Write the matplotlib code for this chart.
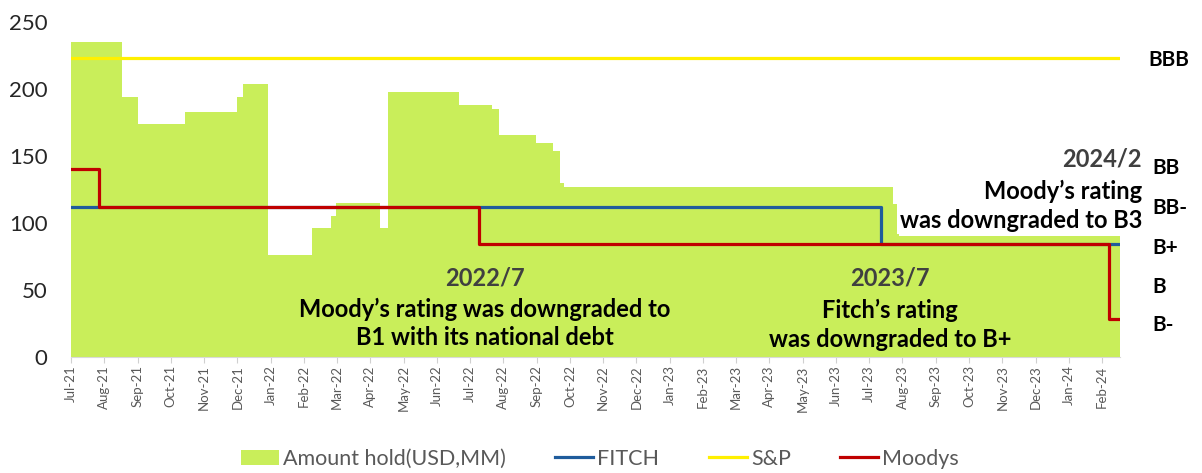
import numpy as np
import matplotlib.pyplot as plt
from matplotlib.patches import Patch
from matplotlib.lines import Line2D
import matplotlib.transforms as mtransforms

plt.rcParams['font.family'] = ['Lato', 'DejaVu Sans']

# month labels, Jul-21 .. Feb-24 (x positions are months since Jul-21)
months = ['Jul-21', 'Aug-21', 'Sep-21', 'Oct-21', 'Nov-21', 'Dec-21',
          'Jan-22', 'Feb-22', 'Mar-22', 'Apr-22', 'May-22', 'Jun-22',
          'Jul-22', 'Aug-22', 'Sep-22', 'Oct-22', 'Nov-22', 'Dec-22',
          'Jan-23', 'Feb-23', 'Mar-23', 'Apr-23', 'May-23', 'Jun-23',
          'Jul-23', 'Aug-23', 'Sep-23', 'Oct-23', 'Nov-23', 'Dec-23',
          'Jan-24', 'Feb-24']
x_end = 31.54

# amount held (USD MM), step changes
amt_x = [0, 1.54, 2.0, 3.43, 5.0, 5.16, 5.92, 7.26, 7.82, 7.96, 9.29, 9.54,
         11.67, 12.65, 12.87, 13.97, 14.5, 14.7, 14.83, 24.7, 24.9, x_end]
amt_y = [235, 194, 174, 183, 194, 204, 76, 96, 105, 115, 96, 198,
         188, 185, 166, 160, 154, 130, 127, 114, 90, 90]

# ratings mapped to the chart scale
fitch_x = [0, 24.35, x_end]
fitch_y = [112, 84, 84]
sp_x = [0, x_end]
sp_y = [223, 223]
moodys_x = [0, 0.84, 12.27, 31.2, x_end]
moodys_y = [140, 112, 84, 28, 28]

rating_names = ['BBB', 'BB', 'BB-', 'B+', 'B', 'B-']
rating_pos = [222, 141, 111, 81, 52, 24]

green = '#C9EE5A'
blue = '#1F5C9C'
yellow = '#FFF000'
red = '#C00000'

fig = plt.figure(figsize=(12.02, 4.73), dpi=100)
ax = fig.add_axes([71 / 1202, 1 - 357 / 473, (1120 - 71) / 1202, (357 - 22) / 473])

ax.fill_between(amt_x, amt_y, step='post', color=green, lw=0)
ax.step(fitch_x, fitch_y, where='post', color=blue, lw=2.3)
ax.plot(sp_x, sp_y, color=yellow, lw=2.3)
ax.step(moodys_x, moodys_y, where='post', color=red, lw=2.3)

ax.set_xlim(0, x_end)
ax.set_ylim(0, 250)
ax.set_xticks(range(len(months)))
ax.set_xticklabels(months, rotation=90, fontsize=9.5, color='#595959')
ax.set_yticks(range(0, 251, 50))
ax.tick_params(axis='y', length=0, labelsize=16, labelcolor='#262626', pad=17)
ax.tick_params(axis='x', length=4, color='#D0D0D0', pad=2)
for s in ['top', 'right', 'left']:
    ax.spines[s].set_visible(False)
ax.spines['bottom'].set_color('#D9D9D9')

trans = mtransforms.blended_transform_factory(ax.transAxes, ax.transData)
for name, pos in zip(rating_names, rating_pos):
    ax.text(1.0267 if name == 'BBB' else 1.0305, pos, name, transform=trans,
            fontsize=15, fontweight='bold', va='center', ha='left')

# annotations
fs = 17
ls = 1.3
ax.text(12.45, 59, '2022/7', fontsize=fs, fontweight='bold', color='#404040',
        ha='center', va='center')
ax.text(12.45, 25, "Moody’s rating was downgraded to\nB1 with its national debt",
        fontsize=fs, fontweight='bold', color='black', ha='center', va='center',
        linespacing=ls)
ax.text(24.62, 59, '2023/7', fontsize=fs, fontweight='bold', color='#404040',
        ha='center', va='center')
ax.text(24.62, 24, "Fitch’s rating\nwas downgraded to B+",
        fontsize=fs, fontweight='bold', color='black', ha='center', va='center',
        linespacing=ls)
ax.text(32.2, 148, '2024/2', fontsize=fs, fontweight='bold', color='#404040',
        ha='right', va='center', clip_on=False)
ax.text(32.2, 113, "Moody’s rating\nwas downgraded to B3",
        fontsize=fs, fontweight='bold', color='black', ha='right', va='center',
        linespacing=ls, clip_on=False,
        bbox=dict(facecolor='white', edgecolor='none', pad=2))

handles = [Patch(facecolor=green, edgecolor='none'),
           Line2D([], [], color=blue, lw=2.3),
           Line2D([], [], color=yellow, lw=2.3),
           Line2D([], [], color=red, lw=2.3)]
labels = ['Amount hold(USD,MM)', 'FITCH', 'S&P', 'Moodys']
leg = fig.legend(handles, labels, loc='center', bbox_to_anchor=(600 / 1202, 1 - 459 / 473),
                 ncol=4, frameon=False, fontsize=15.5, handlelength=1.75,
                 handletextpad=0.2, columnspacing=2.3, borderpad=0, borderaxespad=0)
for t in leg.get_texts():
    t.set_color('#595959')

fig.savefig('out.png', dpi=100)
